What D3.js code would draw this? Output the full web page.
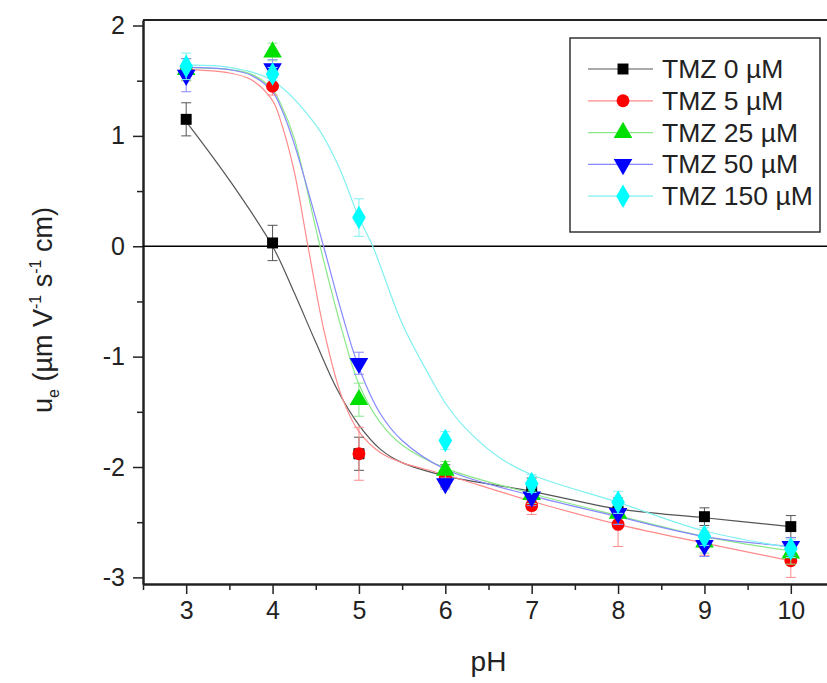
<!DOCTYPE html>
<html><head><meta charset="utf-8">
<script src="https://cdn.jsdelivr.net/npm/d3@7"></script>
<style>body{margin:0;background:#fff}svg{display:block}text{font-family:"Liberation Sans",Arial,sans-serif}</style>
</head><body>
<script>
// ---- data ----
const pH = [3, 4, 5, 6, 7, 8, 9, 10];
const seriesNames = ["TMZ 0 \u00b5M", "TMZ 5 \u00b5M", "TMZ 25 \u00b5M", "TMZ 50 \u00b5M", "TMZ 150 \u00b5M"];
const tmz0   = [1.15, 0.03, -1.88, -2.08, -2.20, -2.40, -2.45, -2.54];
const tmz5   = [1.60, 1.45, -1.88, -2.10, -2.35, -2.52, -2.70, -2.85];
const tmz25  = [1.60, 1.76, -1.39, -2.03, -2.25, -2.42, -2.68, -2.78];
const tmz50  = [1.55, 1.61, -1.06, -2.15, -2.27, -2.42, -2.71, -2.72];
const tmz150 = [1.63, 1.56, 0.26, -1.76, -2.15, -2.32, -2.63, -2.74];
const err0   = [0.15, 0.16, 0.15, 0.10, 0.10, 0.12, 0.08, 0.10];
const err5   = [0.10, 0.08, 0.24, 0.08, 0.08, 0.20, 0.10, 0.15];
const err25  = [0.10, 0.08, 0.15, 0.08, 0.08, 0.10, 0.10, 0.10];
const err50  = [0.15, 0.08, 0.10, 0.05, 0.08, 0.10, 0.10, 0.08];
const err150 = [0.12, 0.06, 0.17, 0.08, 0.08, 0.10, 0.08, 0.08];
// fitted curves
const fit0x   = [3, 3.5, 4, 4.25, 4.5, 4.75, 5, 5.25, 5.5, 6, 7, 8, 9, 10];
const fit0y   = [1.13, 0.6, 0.0, -0.42, -0.87, -1.3, -1.62, -1.84, -1.96, -2.08, -2.22, -2.38, -2.46, -2.54];
const fit5x   = [3, 3.5, 3.75, 4, 4.1, 4.25, 4.41, 4.6, 4.8, 5, 5.25, 5.5, 6, 7, 8, 9, 10];
const fit5y   = [1.6, 1.57, 1.51, 1.32, 1.12, 0.68, 0.0, -0.78, -1.36, -1.68, -1.87, -1.96, -2.07, -2.31, -2.52, -2.69, -2.85];
const fit25x  = [3, 3.5, 3.75, 4, 4.1, 4.25, 4.55, 4.8, 5, 5.25, 5.5, 6, 7, 8, 9, 10];
const fit25y  = [1.62, 1.6, 1.56, 1.42, 1.28, 0.98, 0.0, -0.75, -1.25, -1.6, -1.8, -2.01, -2.24, -2.44, -2.63, -2.76];
const fit50x  = [3, 3.5, 3.75, 4, 4.1, 4.25, 4.59, 4.8, 5, 5.25, 5.5, 6, 7, 8, 9, 10];
const fit50y  = [1.62, 1.6, 1.55, 1.4, 1.25, 0.93, 0.0, -0.6, -1.1, -1.52, -1.76, -2.02, -2.26, -2.45, -2.63, -2.72];
const fit150x = [3, 3.5, 4, 4.5, 4.75, 5, 5.16, 5.5, 5.82, 6, 6.2, 6.6, 7, 8, 9, 10];
const fit150y = [1.64, 1.62, 1.5, 1.1, 0.75, 0.26, 0.0, -0.7, -1.18, -1.42, -1.62, -1.9, -2.07, -2.32, -2.58, -2.73];
const xTicks = [3, 4, 5, 6, 7, 8, 9, 10];
const yTicks = [-3, -2, -1, 0, 1, 2];

const colors = ["#000000", "#ff0000", "#00e000", "#0000ff", "#00ffff"];
const lineColors = ["#555555", "#ff8a8a", "#8ae88a", "#8888ff", "#80f0f0"];
const shapes = [d3.symbolSquare, d3.symbolCircle, d3.symbolTriangle, "down", d3.symbolDiamond];
const vals = [tmz0, tmz5, tmz25, tmz50, tmz150];
const errs = [err0, err5, err25, err50, err150];
const fitsX = [fit0x, fit5x, fit25x, fit50x, fit150x];
const fitsY = [fit0y, fit5y, fit25y, fit50y, fit150y];

const W = 827, H = 683;
const m = {l: 143, t: 20, r: 834, b: 584};
const svg = d3.select("body").append("svg").attr("width", W).attr("height", H);
const x = d3.scaleLinear().domain([2.5, 10.5]).range([m.l, m.r]);
const y = d3.scaleLinear().domain([-3.06, 2.05]).range([m.b, m.t]);

// frame top
svg.append("line").attr("x1", m.l).attr("x2", m.r).attr("y1", m.t).attr("y2", m.t)
  .attr("stroke", "#222").attr("stroke-width", 2);

// axes
const xMinor = d3.range(2.5, 10.51, 0.5).filter(v => !xTicks.includes(v));
const yMinor = d3.range(-3, 2.01, 0.5).filter(v => !yTicks.includes(v));
const fmt = d => String(d);
const gx = svg.append("g").attr("transform", `translate(0,${m.b})`);
gx.call(d3.axisBottom(x).tickValues(xMinor).tickSize(6).tickFormat("").tickSizeOuter(0));
gx.call(g => g.append("g").call(d3.axisBottom(x).tickValues(xTicks).tickFormat(fmt).tickSize(10).tickPadding(7).tickSizeOuter(0)));
const gy = svg.append("g").attr("transform", `translate(${m.l},0)`);
gy.call(d3.axisLeft(y).tickValues(yMinor).tickSize(6).tickFormat("").tickSizeOuter(0));
gy.call(g => g.append("g").call(d3.axisLeft(y).tickValues(yTicks).tickFormat(fmt).tickSize(10).tickPadding(8).tickSizeOuter(0)));
svg.selectAll(".domain").attr("stroke", "#222").attr("stroke-width", 2);
svg.selectAll(".tick line").attr("stroke", "#222").attr("stroke-width", 1.5);
svg.selectAll(".tick text").attr("font-size", 25).attr("fill", "#222")
  .attr("font-family", "'Liberation Sans', Arial, sans-serif");

// zero line
svg.append("line").attr("x1", m.l).attr("x2", m.r).attr("y1", y(0)).attr("y2", y(0))
  .attr("stroke", "#000").attr("stroke-width", 1.5);

// fit curves
const line = d3.line().x(d => x(d[0])).y(d => y(d[1])).curve(d3.curveCatmullRom.alpha(0.5));
fitsX.forEach((fx, i) => {
  svg.append("path").datum(fx.map((v, j) => [v, fitsY[i][j]]))
    .attr("d", line).attr("fill", "none").attr("stroke", lineColors[i]).attr("stroke-width", 1.2);
});

function symPath(k, size) {
  if (shapes[k] === "down") return d3.symbol(d3.symbolTriangle, size)();
  return d3.symbol(shapes[k], size)();
}
const sizes = [120, 130, 150, 150, 160];

// error bars & markers
vals.forEach((vs, i) => {
  const g = svg.append("g");
  vs.forEach((v, j) => {
    const cx = x(pH[j]), e = errs[i][j];
    g.append("line").attr("x1", cx).attr("x2", cx).attr("y1", y(v - e)).attr("y2", y(v + e))
      .attr("stroke", lineColors[i]).attr("stroke-width", 1);
    [v - e, v + e].forEach(t => g.append("line").attr("x1", cx - 5).attr("x2", cx + 5)
      .attr("y1", y(t)).attr("y2", y(t)).attr("stroke", lineColors[i]).attr("stroke-width", 1));
    g.append("path").attr("d", symPath(i, sizes[i]))
      .attr("transform", `translate(${cx},${y(v)})` + (shapes[i] === "down" ? " rotate(180)" : ""))
      .attr("fill", colors[i]);
  });
});

// legend
const lg = svg.append("g");
lg.append("rect").attr("x", 570).attr("y", 38).attr("width", 250).attr("height", 194)
  .attr("fill", "#fff").attr("stroke", "#333").attr("stroke-width", 1.5);
seriesNames.forEach((name, i) => {
  const cy = 69 + i * 31.8;
  lg.append("line").attr("x1", 588).attr("x2", 653).attr("y1", cy).attr("y2", cy)
    .attr("stroke", lineColors[i]).attr("stroke-width", 1.2);
  lg.append("path").attr("d", symPath(i, sizes[i]))
    .attr("transform", `translate(623,${cy})` + (shapes[i] === "down" ? " rotate(180)" : ""))
    .attr("fill", colors[i]);
  lg.append("text").attr("x", 662).attr("y", cy + 9).attr("font-size", 26.5).attr("fill", "#222").text(name);
});

// axis titles
svg.append("text").attr("x", (m.l + m.r) / 2).attr("y", 671).attr("text-anchor", "middle")
  .attr("font-size", 28).attr("fill", "#222").text("pH");
const yt = svg.append("text").attr("transform", `translate(52,310) rotate(-90)`)
  .attr("text-anchor", "middle").attr("font-size", 27).attr("fill", "#222");
yt.append("tspan").text("u");
yt.append("tspan").attr("font-size", 16).attr("dy", 7).text("e");
yt.append("tspan").attr("dy", -7).text(" (\u00b5m V");
yt.append("tspan").attr("font-size", 16).attr("dy", -11).text("-1");
yt.append("tspan").attr("dy", 11).text(" s");
yt.append("tspan").attr("font-size", 16).attr("dy", -11).text("-1");
yt.append("tspan").attr("dy", 11).text(" cm)");
</script>
</body></html>
